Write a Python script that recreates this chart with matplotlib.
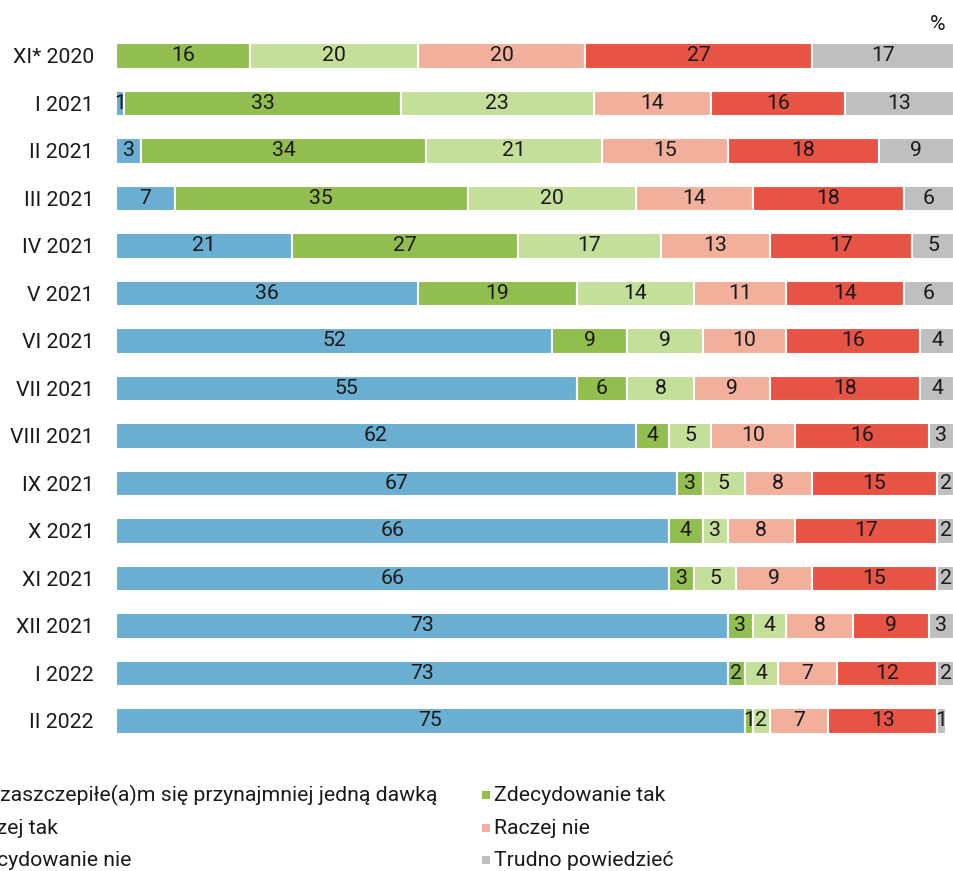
import matplotlib
matplotlib.use("Agg")
import matplotlib.pyplot as plt
import numpy as np
from matplotlib.patches import Rectangle

plt.rcParams["font.family"] = ["Roboto", "DejaVu Sans"]

# survey waves (top to bottom)
waves = ["XI* 2020", "I 2021", "II 2021", "III 2021", "IV 2021", "V 2021",
         "VI 2021", "VII 2021", "VIII 2021", "IX 2021", "X 2021", "XI 2021",
         "XII 2021", "I 2022", "II 2022"]

already = [0, 1, 3, 7, 21, 36, 52, 55, 62, 67, 66, 66, 73, 73, 75]
def_yes = [16, 33, 34, 35, 27, 19, 9, 6, 4, 3, 4, 3, 3, 2, 1]
rather_yes = [20, 23, 21, 20, 17, 14, 9, 8, 5, 5, 3, 5, 4, 4, 2]
rather_no = [20, 14, 15, 14, 13, 11, 10, 9, 10, 8, 8, 9, 8, 7, 7]
def_no = [27, 16, 18, 18, 17, 14, 16, 18, 16, 15, 17, 15, 9, 12, 13]
hard_say = [17, 13, 9, 6, 5, 6, 4, 4, 3, 2, 2, 2, 3, 2, 1]

series_names = ["Już zaszczepiłe(a)m się przynajmniej jedną dawką", "Zdecydowanie tak",
                "Raczej tak", "Raczej nie", "Zdecydowanie nie", "Trudno powiedzieć"]
colors = ["#6aaed2", "#92be50", "#c4df9a", "#f2b09c", "#e75344", "#bfbfbf"]

series = [already, def_yes, rather_yes, rather_no, def_no, hard_say]

FS = 15.3
TXT = "#1a1a1a"
W, H = 954, 871

fig = plt.figure(figsize=(W / 100, H / 100), dpi=100)
ax = fig.add_axes([0.1216, 0.145, 0.8784, 0.818])

y = np.arange(len(waves))
left = np.zeros(len(waves))
for vals, col in zip(series, colors):
    vals = np.array(vals, dtype=float)
    ax.barh(y, vals, left=left, height=0.53, color=col, edgecolor="white",
            linewidth=1.5)
    for yi, (l, v) in enumerate(zip(left, vals)):
        if v > 0:
            ax.text(l + v / 2, yi, f"{int(v)}", ha="center", va="center",
                    fontsize=FS, color=TXT)
    left += vals

ax.set_xlim(0, 100)
ax.set_ylim(len(waves) - 0.5, -0.5)
ax.set_yticks(y)
ax.set_yticklabels(waves, fontsize=FS, color=TXT)
ax.tick_params(axis="y", length=0, pad=16)
ax.set_xticks([])
for s in ax.spines.values():
    s.set_visible(False)

fig.text(938 / W, 1 - 25 / H, "%", ha="center", va="center", fontsize=FS, color=TXT)

# legend drawn by hand: left column runs off the left edge, as in the source
renderer = fig.canvas.get_renderer()
probe = fig.text(0, 0, series_names[0], fontsize=FS)
first_w = probe.get_window_extent(renderer).width
probe.remove()

left_text_x = 437 - first_w
right_text_x = 494
row_y = [795, 828, 860]
cols = [(left_text_x, [0, 2, 4]), (right_text_x, [1, 3, 5])]
for tx, idxs in cols:
    for ry, i in zip(row_y, idxs):
        fig.patches.append(Rectangle(((tx - 12) / W, 1 - (ry + 4) / H), 8 / W, 8 / H,
                                     transform=fig.transFigure, facecolor=colors[i],
                                     edgecolor="none"))
        fig.text(tx / W, 1 - ry / H, series_names[i], ha="left", va="center",
                 fontsize=FS, color=TXT)

fig.savefig("out.png", dpi=100)
